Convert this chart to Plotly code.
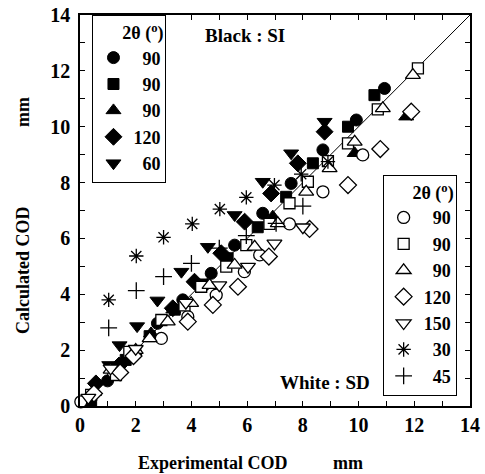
import plotly.graph_objects as go

# ---- data (Experimental COD, Calculated COD), mm ----
# Black : SI
si_circle_x = [0.35, 0.99, 1.9, 2.78, 3.69, 4.71, 5.55, 6.56, 7.58, 8.72, 9.92, 10.93]
si_circle_y = [0.2, 0.9, 1.95, 2.96, 3.8, 4.75, 5.76, 6.9, 7.97, 9.17, 10.24, 11.37]
si_square_x = [0.4, 1.64, 2.5, 3.4, 4.4, 5.3, 6.38, 7.4, 8.36, 9.62, 10.57]
si_square_y = [0.15, 1.65, 2.5, 3.45, 4.35, 5.29, 6.4, 7.49, 8.69, 10.0, 11.13]
si_tri_x = [0.3, 1.3, 2.55, 3.35, 6.92, 9.86, 11.71]
si_tri_y = [0.3, 1.3, 2.6, 3.45, 6.78, 9.05, 10.36]
si_diam_x = [0.57, 1.4, 3.33, 4.11, 5.07, 5.91, 6.86, 7.82, 8.78]
si_diam_y = [0.81, 1.45, 3.5, 4.45, 5.47, 6.6, 7.61, 8.69, 9.82]
si_dtri_x = [1.05, 1.42, 2.05, 2.78, 3.64, 4.59, 5.55, 6.56, 7.58, 8.78]
si_dtri_y = [1.47, 2.18, 2.86, 3.78, 4.81, 5.7, 6.84, 8.03, 9.05, 10.18]

# White : SD
sd_circle_x = [0.03, 1.2, 2.0, 2.92, 3.87, 4.89, 5.9, 6.45, 7.52, 8.72, 10.15]
sd_circle_y = [0.15, 1.2, 1.9, 2.42, 3.2, 3.97, 4.81, 5.41, 6.52, 7.67, 8.99]
sd_square_x = [0.4, 1.29, 1.77, 2.92, 3.75, 4.35, 5.25, 5.97, 6.8, 7.52, 8.18, 8.9, 9.62, 10.69, 12.13]
sd_square_y = [0.4, 1.11, 1.94, 3.08, 3.6, 4.27, 4.99, 5.76, 6.52, 7.26, 8.03, 8.77, 9.4, 10.62, 12.09]
sd_tri_x = [0.5, 1.1, 2.0, 2.5, 3.15, 3.99, 4.65, 5.55, 6.27, 7.1, 8.12, 8.96, 9.86, 10.87, 11.95]
sd_tri_y = [0.5, 1.29, 2.0, 2.42, 3.02, 3.68, 4.33, 5.05, 5.7, 6.54, 7.67, 8.51, 9.46, 10.66, 11.85]
sd_diam_x = [0.5, 1.44, 1.92, 3.87, 4.77, 5.67, 6.78, 8.24, 9.62, 10.78, 11.89]
sd_diam_y = [0.45, 1.2, 1.79, 3.02, 3.62, 4.27, 5.35, 6.34, 7.91, 9.2, 10.54]
sd_dtri_x = [0.3, 1.1, 2.0, 3.8, 5.0, 6.03, 6.98, 8.0]
sd_dtri_y = [0.3, 1.35, 2.05, 3.7, 4.33, 4.99, 5.82, 6.4]
sd_star_x = [1.03, 2.02, 3.0, 4.03, 5.02, 5.97, 6.98, 7.94, 8.9]
sd_star_y = [3.8, 5.37, 6.04, 6.52, 7.05, 7.47, 7.91, 8.3, 8.75]
sd_plus_x = [1.03, 2.02, 3.0, 4.0, 5.0, 5.97, 7.04, 8.0]
sd_plus_y = [2.8, 4.13, 4.63, 5.11, 5.65, 6.1, 6.54, 7.16]

si_labels = ["90", "90", "90", "120", "60"]
sd_labels = ["90", "90", "90", "120", "150", "30", "45"]
diag = [0, 14]
axis_ticks = [0, 2, 4, 6, 8, 10, 12, 14]

FONT = "Liberation Serif, Times New Roman, serif"
NB = "\u00a0\u00a0"  # pad two-digit labels so numbers right-align

def lab(s):
    return (NB + s) if len(s) == 2 else s

fig = go.Figure()

fig.add_trace(go.Scatter(x=diag, y=diag, mode="lines", line=dict(color="black", width=1),
                         showlegend=False, hoverinfo="skip"))

si_series = [
    (si_circle_x, si_circle_y, "circle", 12),
    (si_square_x, si_square_y, "square", 11),
    (si_tri_x, si_tri_y, "triangle-up", 13),
    (si_diam_x, si_diam_y, "diamond", 13),
    (si_dtri_x, si_dtri_y, "triangle-down", 13),
]
for (xs, ys, sym, sz), name in zip(si_series, si_labels):
    fig.add_trace(go.Scatter(
        x=xs, y=ys, mode="markers", name=lab(name), legend="legend",
        marker=dict(symbol=sym, size=sz, color="black", line=dict(color="black", width=1)),
        cliponaxis=False))

sd_series = [
    (sd_circle_x, sd_circle_y, "circle", 12, "white"),
    (sd_square_x, sd_square_y, "square", 11, "white"),
    (sd_tri_x, sd_tri_y, "triangle-up", 13, "white"),
    (sd_diam_x, sd_diam_y, "diamond", 13, "white"),
    (sd_dtri_x, sd_dtri_y, "triangle-down", 13, "white"),
    (sd_star_x, sd_star_y, "asterisk-open", 12, "black"),
    (sd_plus_x, sd_plus_y, "cross-thin-open", 12, "black"),
]
for (xs, ys, sym, sz, col), name in zip(sd_series, sd_labels):
    fig.add_trace(go.Scatter(
        x=xs, y=ys, mode="markers", name=lab(name), legend="legend2",
        marker=dict(symbol=sym, size=sz, color=col, line=dict(color="black", width=1.3)),
        cliponaxis=False))

axis_common = dict(
    range=[0, 14], tickvals=axis_ticks, ticktext=[str(v) for v in axis_ticks],
    ticks="inside", ticklen=5, tickwidth=1, tickcolor="black",
    minor=dict(ticks="inside", dtick=1, ticklen=5, tickwidth=1, tickcolor="black"),
    showline=True, linecolor="black", linewidth=1.5, mirror="ticks",
    showgrid=False, zeroline=False, automargin=False,
    tickfont=dict(family=FONT, size=20, color="black", weight="bold"),
)

legend_common = dict(
    bordercolor="black", borderwidth=1, bgcolor="white",
    font=dict(family=FONT, size=18, color="black", weight="bold"),
    title=dict(text="2θ (<sup>o</sup>)", side="top right",
               font=dict(family=FONT, size=18, color="black", weight="bold")),
    itemsizing="trace", tracegroupgap=0,
)

fig.update_layout(
    width=485, height=474,
    margin=dict(l=80, r=15, t=15, b=68),
    paper_bgcolor="white", plot_bgcolor="white",
    font=dict(family=FONT, color="black", weight="bold"),
    xaxis=axis_common,
    yaxis=dict(axis_common, ticklabelstandoff=4),
    legend=dict(x=0.032, y=1.0, xanchor="left", yanchor="top", entrywidth=66, **legend_common),
    legend2=dict(x=0.776, y=0.026, xanchor="left", yanchor="bottom", **legend_common),
)

W, H = 485, 474
L, R, T, B = 80, 15, 15, 68
pw, ph = W - L - R, H - T - B

def ann(text, px_, py_, size, angle=0):
    return dict(text=text, xref="paper", yref="paper",
                x=(px_ - L) / pw, y=(H - B - py_) / ph,
                xanchor="center", yanchor="middle", showarrow=False, textangle=angle,
                font=dict(family=FONT, size=size, color="black", weight="bold"))

fig.update_layout(annotations=[
    ann("Black : SI", 245, 35, 19),
    ann("White : SD", 325, 382, 19),
    ann("Experimental COD", 212, 463, 18),
    ann("mm", 348, 463, 18),
    ann("Calculated COD", 23, 270, 18, -90),
    ann("mm", 23, 112, 18, -90),
])

fig.write_html("out.html", config={"displayModeBar": False},
               post_script="document.body.style.margin='0';")
